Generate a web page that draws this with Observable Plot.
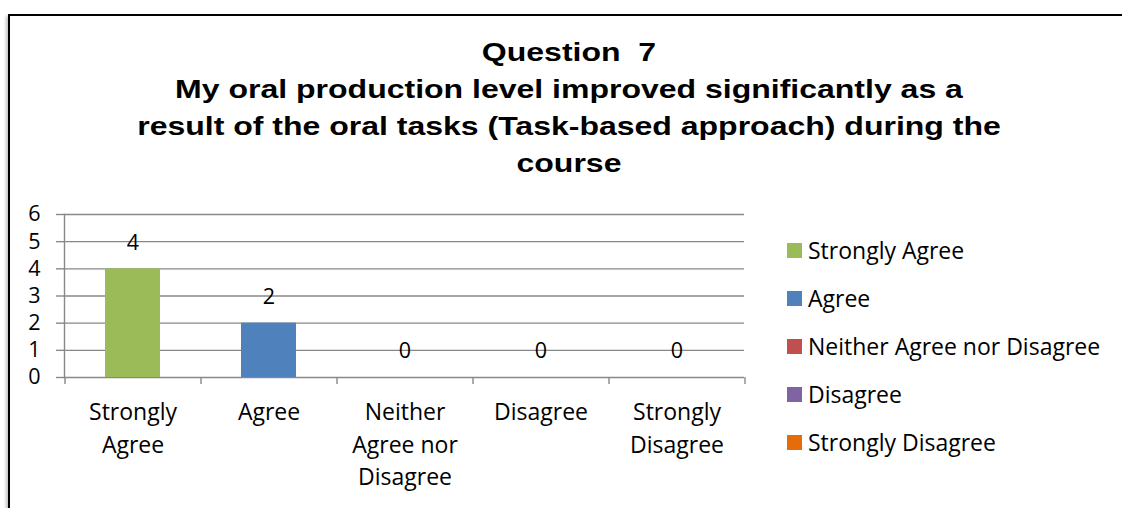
<!DOCTYPE html>
<html>
<head>
<meta charset="utf-8">
<script src="https://cdn.jsdelivr.net/npm/d3@7"></script>
<script src="https://cdn.jsdelivr.net/npm/@observablehq/plot@0.6"></script>
<style>
  html, body { margin: 0; padding: 0; background: #fff; }
  #wrap { position: relative; width: 1122px; height: 508px; overflow: hidden; background: #fff; }
  #frame { position: absolute; left: 8px; top: 14px; width: 1200px; height: 600px; border: 2px solid #000; box-shadow: -2px 2px 3px rgba(0,0,0,0.25); }
  #title { position: absolute; left: 69px; width: 1000px; top: 34px; text-align: center;
           font-family: "Liberation Sans", Arial, sans-serif; font-weight: bold; font-size: 25px; line-height: 37px; color: #000; white-space: pre;
           transform: scaleX(1.28); transform-origin: 500px 0; }
  #chart { position: absolute; left: 0; top: 0; }
  #legend { position: absolute; left: 787px; top: 226px; font-family: "Open Sans", Lato, sans-serif; font-size: 23px; color: #000; }
  .row { height: 48px; display: flex; align-items: center; white-space: nowrap; }
  .sw { width: 15px; height: 15px; margin-right: 6px; flex: none; }
</style>
</head>
<body>
<div id="wrap">
  <div id="frame"></div>
  <div id="title"></div>
  <div id="chart"></div>
  <div id="legend"></div>
</div>
<script>
const titleLines = [
  "Question  7",
  "My oral production level improved significantly as a",
  "result of the oral tasks (Task-based approach) during the",
  "course"
];
const categories = ["Strongly Agree", "Agree", "Neither Agree nor Disagree", "Disagree", "Strongly Disagree"];
const tickLabels = ["Strongly\nAgree", "Agree", "Neither\nAgree nor\nDisagree", "Disagree", "Strongly\nDisagree"];
const counts = [4, 2, 0, 0, 0];
const colors = ["#9BBB59", "#4F81BD", "#C0504D", "#8064A2", "#E46C0A"];
const yTicks = [0, 1, 2, 3, 4, 5, 6];

const data = categories.map((c, i) => ({category: c, count: counts[i], label: tickLabels[i]}));

document.getElementById("title").textContent = titleLines.join("\n");

const W = 1122, H = 508;
const mL = 64, mR = 378, mT = 214, mB = 131;
const half = (W - mL - mR) / categories.length / 2;
const gray = "#888888";
const font = "'Open Sans', Lato, sans-serif";

const chart = Plot.plot({
  width: W,
  height: H,
  marginLeft: mL,
  marginRight: mR,
  marginTop: mT,
  marginBottom: mB,
  style: {background: "transparent", fontFamily: font, color: "#000"},
  x: {domain: categories, paddingInner: 0.596, paddingOuter: 0.298, axis: null, label: null},
  y: {domain: [0, 6], axis: null, label: null},
  color: {domain: categories, range: colors},
  marks: [
    Plot.gridY(yTicks, {stroke: gray, strokeOpacity: 1, strokeWidth: 1.4}),
    Plot.axisY({ticks: yTicks, tickSize: 8, tickPadding: 16, tickFormat: d3.format("d"), label: null, stroke: gray, strokeWidth: 1.4, fill: "#000", fontSize: 21.5, fontFamily: font}),
    Plot.frame({anchor: "left", stroke: gray, strokeWidth: 1.4}),
    Plot.axisX({ticks: categories, tickSize: 7, tickFormat: () => "", label: null, dx: -half, stroke: gray, strokeWidth: 1.4}),
    Plot.axisX({ticks: categories.slice(-1), tickSize: 7, tickFormat: () => "", label: null, dx: half, stroke: gray, strokeWidth: 1.4}),
    Plot.barY(data, {x: "category", y: "count", fill: "category"}),
    Plot.text(data, {x: "category", y: "count", text: d => String(d.count), dy: -26, fontSize: 21.5, fill: "#000"}),
    Plot.text(data, {x: "category", text: "label", frameAnchor: "bottom", lineAnchor: "top", dy: 20, lineHeight: 1.4, fontSize: 23, fill: "#000"})
  ]
});
document.getElementById("chart").appendChild(chart);

const legend = document.getElementById("legend");
categories.forEach((c, i) => {
  const row = document.createElement("div");
  row.className = "row";
  const sw = document.createElement("span");
  sw.className = "sw";
  sw.style.background = colors[i];
  const tx = document.createElement("span");
  tx.textContent = c;
  row.appendChild(sw);
  row.appendChild(tx);
  legend.appendChild(row);
});
</script>
</body>
</html>
